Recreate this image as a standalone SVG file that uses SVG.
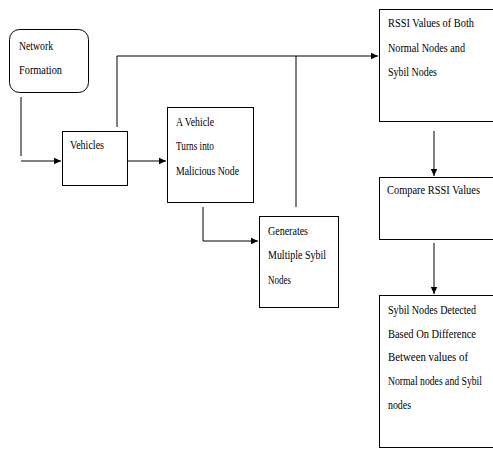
<svg xmlns="http://www.w3.org/2000/svg" width="493" height="450" viewBox="0 0 493 450">
<style>
.box{fill:#fff;stroke:#000;stroke-width:1}
.ln{fill:none;stroke:#000;stroke-width:1}
text{font-family:"Liberation Serif","Times New Roman",serif;font-size:12px;fill:#000}
</style>
<defs>
<marker id="ah" markerWidth="8" markerHeight="8" refX="7" refY="4" orient="auto" markerUnits="userSpaceOnUse">
<path d="M0,0.8 L7,4 L0,7.2 Z" fill="#000"/>
</marker>
</defs>
<rect width="493" height="450" fill="#fff"/>
<g id="connectors">
<path class="ln" d="M21,97 V156"/>
<path class="ln" d="M21,161 H61" marker-end="url(#ah)"/>
<path class="ln" d="M127,161 H166" marker-end="url(#ah)"/>
<path class="ln" d="M117,127 V56 H378" marker-end="url(#ah)"/>
<path class="ln" d="M296,56 V207"/>
<path class="ln" d="M203,207 V241 H258" marker-end="url(#ah)"/>
<path class="ln" d="M434,131 V176" marker-end="url(#ah)"/>
<path class="ln" d="M434,243 V294" marker-end="url(#ah)"/>
</g>
<g id="network-formation">
<rect class="box" x="9.5" y="29.5" width="79" height="63" rx="10"/>
<text x="19" y="50" textLength="34" lengthAdjust="spacingAndGlyphs">Network</text>
<text x="19" y="74" textLength="43" lengthAdjust="spacingAndGlyphs">Formation</text>
</g>
<g id="vehicles">
<rect class="box" x="62.5" y="131.5" width="65" height="54"/>
<text x="70" y="149" textLength="34" lengthAdjust="spacingAndGlyphs">Vehicles</text>
</g>
<g id="malicious">
<rect class="box" x="167.5" y="107.5" width="86" height="95"/>
<text x="176" y="126" textLength="38" lengthAdjust="spacingAndGlyphs">A Vehicle</text>
<text x="176" y="150" textLength="38" lengthAdjust="spacingAndGlyphs">Turns into</text>
<text x="176" y="175" textLength="63" lengthAdjust="spacingAndGlyphs">Malicious Node</text>
</g>
<g id="generates">
<rect class="box" x="259.5" y="216.5" width="79" height="91"/>
<text x="268" y="235" textLength="40" lengthAdjust="spacingAndGlyphs">Generates</text>
<text x="268" y="259" textLength="58" lengthAdjust="spacingAndGlyphs">Multiple Sybil</text>
<text x="268" y="284" textLength="23" lengthAdjust="spacingAndGlyphs">Nodes</text>
</g>
<g id="rssi">
<rect class="box" x="379.5" y="9.5" width="115" height="112"/>
<text x="388" y="27" textLength="86" lengthAdjust="spacingAndGlyphs">RSSI Values of Both</text>
<text x="388" y="52" textLength="77" lengthAdjust="spacingAndGlyphs">Normal Nodes and</text>
<text x="388" y="76" textLength="49" lengthAdjust="spacingAndGlyphs">Sybil Nodes</text>
</g>
<g id="compare">
<rect class="box" x="379.5" y="177.5" width="115" height="62"/>
<text x="387" y="194" textLength="93" lengthAdjust="spacingAndGlyphs">Compare RSSI Values</text>
</g>
<g id="detected">
<rect class="box" x="379.5" y="295.5" width="115" height="152"/>
<text x="388" y="314" textLength="88" lengthAdjust="spacingAndGlyphs">Sybil Nodes Detected</text>
<text x="388" y="338" textLength="88" lengthAdjust="spacingAndGlyphs">Based On Difference</text>
<text x="388" y="361" textLength="80" lengthAdjust="spacingAndGlyphs">Between values of</text>
<text x="388" y="385" textLength="94" lengthAdjust="spacingAndGlyphs">Normal nodes and Sybil</text>
<text x="388" y="409" textLength="23" lengthAdjust="spacingAndGlyphs">nodes</text>
</g>
</svg>
